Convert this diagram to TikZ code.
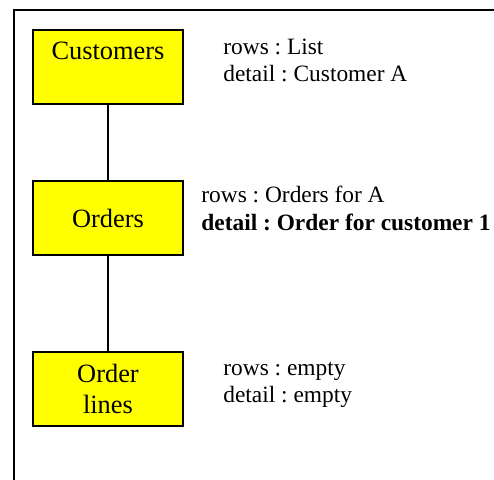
\documentclass[tikz,border=0pt]{standalone}
\usepackage{fontspec}
\setmainfont{Liberation Serif}
\definecolor{tableyellow}{RGB}{255,255,0}
\frenchspacing
\begin{document}
\begin{tikzpicture}[x=0.5pt,y=-0.5pt,
    tablebox/.style={draw=black, line width=1pt, fill=tableyellow, minimum width=75pt, minimum height=37pt, inner sep=0pt, font=\fontsize{13.2}{15.5}\selectfont, align=center},
    info/.style={draw=none, color=black, anchor=base west, inner sep=0pt, font=\fontsize{11.7}{13.5}\selectfont}]
        \useasboundingbox (0,0) rectangle (494,480);
        % coordinates
        \coordinate (f1) at (13.5,480);
        \coordinate (f2) at (13.5,10.5);
        \coordinate (f3) at (494,10.5);
        % frame
        \draw[line width=1pt] (f1) -- (f2) -- (f3);

        % tables
        \node[tablebox, text height=9pt, text depth=16.5pt] (cust) at (108,67) {Customers};
        \node[tablebox] (ord) at (108,218.5) {Orders};
        \node[tablebox] (lines) at (108,389) {Order\\lines};

        % links
        \draw[line width=0.8pt] (cust) -- (ord);
        \draw[line width=0.8pt] (ord) -- (lines);

        % Text
        \node[info] (custrows) at (223,55) {rows : List};
        \node[info] (custdetail) at (223,82) {detail : Customer A};
        \node[info] (ordrows) at (201,203) {rows : Orders for A};
        \node[info, font=\fontsize{11.7}{13.5}\selectfont\bfseries] (orddetail) at (201,231) {detail : Order for customer 1};
        \node[info] (linesrows) at (223,376) {rows : empty};
        \node[info] (linesdetail) at (223,403) {detail : empty};
    \end{tikzpicture}
\end{document}
